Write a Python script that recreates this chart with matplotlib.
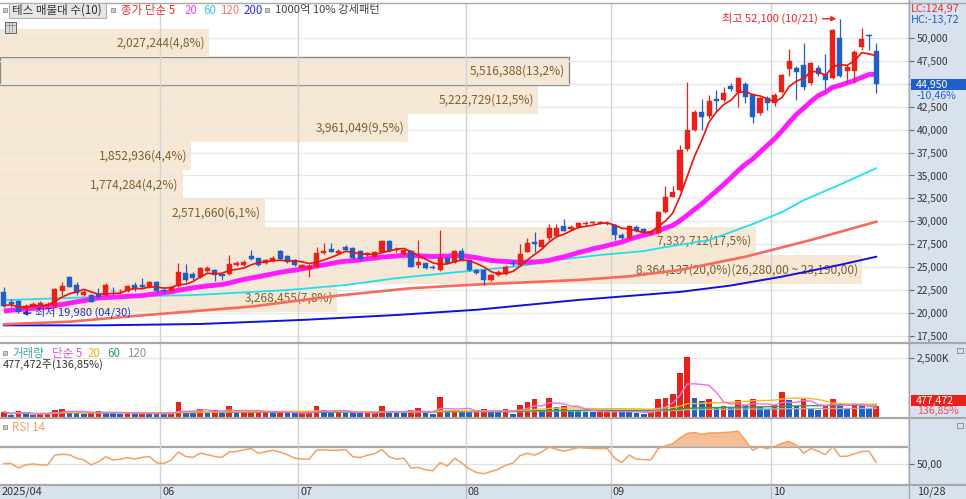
import numpy as np
import pandas as pd
import matplotlib
matplotlib.use("Agg")
import matplotlib.pyplot as plt
from matplotlib.patches import Rectangle
from matplotlib.lines import Line2D
from matplotlib.transforms import blended_transform_factory
from matplotlib.ticker import FuncFormatter

plt.rcParams['font.family'] = ['Noto Sans CJK KR', 'DejaVu Sans']

W, H = 966, 499

# ---------------- data ----------------
holidays = ["2025-05-01", "2025-05-05", "2025-05-06", "2025-06-03", "2025-06-06",
            "2025-08-15", "2025-10-03", "2025-10-06", "2025-10-07", "2025-10-08", "2025-10-09"]
dates = pd.bdate_range("2025-04-28", "2025-10-28")
dates = dates[~dates.isin(pd.to_datetime(holidays))]

opens = [22300, 21250, 21300, 20400, 20700, 20800, 20900, 20800, 22350, 23900,
         23050, 21950, 21950, 22050, 21950, 22450, 22350, 22400, 23050, 23000,
         22850, 23350, 22550, 22350, 22900, 24400, 24300, 23950, 24600, 24700,
         24200, 24200, 25250, 25250, 26200, 25950, 25450, 25700, 26800, 26200,
         25750, 24900, 24850, 25050, 26550, 27000, 26500, 27250, 27050, 26800,
         26300, 26150, 26700, 27900, 26850, 26450, 26750, 25250, 25400, 25050,
         24700, 25950, 25600, 26750, 25800, 24700, 24650, 23600, 24150, 24200,
         25500, 25250, 26700, 27700, 27250, 28150, 28400, 29500, 29150, 29400,
         29750, 29800, 29800, 29750, 29600, 28500, 28150, 29400, 29150, 28650,
         28700, 31000, 32700, 33400, 37850, 40000, 41950, 41450, 43300, 43250,
         44750, 44150, 45000, 43800, 41850, 43500, 42900, 44150, 46600, 46700,
         47000, 45050, 46750, 46050, 45650, 50000, 46400, 46350, 49050, 50300,
         48600]
highs = [22800, 21500, 21400, 21000, 21200, 21350, 21150, 22700, 23400, 24000,
         23350, 22500, 22100, 22700, 23300, 22800, 22650, 23050, 23400, 23800,
         23450, 23450, 22750, 22950, 25400, 25300, 24500, 25050, 25100, 24800,
         24300, 26300, 25650, 25750, 26850, 26050, 25900, 26200, 26900, 26300,
         25850, 25350, 25300, 27200, 27600, 27650, 26950, 27400, 27150, 26900,
         26700, 26800, 28000, 28000, 27200, 26950, 26850, 28000, 25500, 25200,
         29050, 26100, 26850, 27100, 25900, 24800, 24750, 24300, 24700, 25200,
         25800, 27500, 28150, 28850, 28100, 29700, 29700, 30300, 29550, 29900,
         30000, 30050, 30000, 30050, 29700, 28700, 29650, 29600, 29300, 28950,
         31100, 33800, 33800, 38300, 45250, 42100, 43300, 43800, 44300, 44600,
         45100, 45700, 45250, 44000, 43600, 43700, 44000, 46100, 48850, 46900,
         49500, 47400, 47100, 48300, 51000, 52100, 47000, 48700, 51050, 50400,
         49400]
lows = [20700, 20650, 19980, 20300, 20600, 20700, 20800, 20700, 22000, 22800,
        22000, 21900, 21150, 21600, 21900, 22000, 22200, 22300, 22400, 22700,
        22700, 22250, 22200, 22250, 22800, 23400, 23600, 23850, 24500, 23450,
        23600, 24100, 25150, 25150, 25750, 25150, 25350, 25600, 25750, 25450,
        25150, 24800, 23950, 24950, 26450, 26600, 26400, 26800, 25850, 25750,
        26200, 26050, 26600, 26700, 26700, 26350, 25000, 24900, 24800, 24800,
        24600, 25300, 25500, 25700, 24600, 24200, 23050, 23450, 24050, 24100,
        25150, 25150, 26600, 26600, 27100, 28000, 28300, 28900, 29000, 29300,
        29650, 29700, 29700, 29600, 28000, 28050, 28050, 28800, 28700, 28500,
        28600, 30900, 32600, 33300, 37700, 39900, 40000, 41300, 41900, 43000,
        44200, 42500, 42900, 40700, 41600, 42100, 42600, 44000, 45900, 43250,
        44300, 44900, 45800, 44450, 45500, 45700, 45250, 45100, 48700, 48700,
        44000]
closes = [20800, 21000, 20150, 20800, 21000, 21100, 21000, 22600, 22950, 22850,
          22150, 22300, 21250, 21700, 23050, 22350, 22450, 22950, 22600, 22850,
          23350, 22350, 22450, 22800, 24500, 23600, 23800, 24900, 24900, 24100,
          24000, 25300, 25500, 25600, 25850, 25250, 25750, 26050, 25850, 25550,
          25250, 25200, 25150, 26500, 26750, 26700, 26800, 26900, 25950, 25850,
          26550, 26650, 27900, 26800, 26950, 26850, 25050, 25600, 24900, 24950,
          25950, 25400, 26750, 25800, 24700, 24350, 23600, 24150, 24500, 25050,
          25350, 26400, 27600, 27500, 27950, 29250, 29250, 28950, 29400, 29800,
          29850, 29850, 29850, 29850, 28500, 28150, 29500, 28900, 28800, 28850,
          31050, 32600, 33200, 37800, 39950, 41950, 41400, 43150, 43100, 44050,
          44400, 45600, 43600, 41400, 43400, 42900, 43750, 45950, 47500, 46300,
          44600, 47250, 46050, 45400, 50900, 45900, 46850, 48500, 49850, 50200,
          44950]
volumes = [214000, 70000, 257000, 115000, 75000, 140000, 150000, 310000, 340000, 245000,
           150000, 145000, 155000, 257000, 215000, 170000, 145000, 150000, 140000, 150000,
           140000, 138000, 130000, 145000, 640000, 170000, 165000, 360000, 215000, 285000,
           215000, 480000, 180000, 230000, 245000, 255000, 265000, 170000, 180000, 172000,
           165000, 170000, 180000, 460000, 285000, 170000, 285000, 170000, 165000, 160000,
           170000, 175000, 480000, 172000, 168000, 165000, 285000, 400000, 170000, 110000,
           850000, 257000, 315000, 215000, 210000, 215000, 357000, 214000, 205000, 328000,
           143000, 499000, 642000, 756000, 314000, 827000, 440000, 450000, 285000, 280000,
           214000, 205000, 215000, 220000, 280000, 214000, 205000, 170000, 140000, 214000,
           785000, 827000, 998000, 1855000, 2568000, 827000, 685000, 785000, 400000, 485000,
           400000, 713000, 499000, 756000, 428000, 357000, 499000, 1070000, 713000, 471000,
           756000, 385000, 314000, 499000, 756000, 571000, 357000, 499000, 485000, 348903,
           477472]
rsi14 = [51, 51, 46, 49.5, 50.5, 49.5, 49.5, 60.5, 61.5, 61,
         57, 55, 49.5, 53, 58.7, 55, 56, 57.7, 56, 58,
         59, 52, 51, 55, 64, 59, 58, 62.8, 61, 59,
         58, 64.2, 64.5, 66.5, 68, 62.5, 64.5, 66, 64, 61,
         57, 56, 56, 66, 66.5, 66, 66, 66.7, 58.7, 57.7,
         60.5, 62, 66.7, 58.7, 56, 57, 46, 46.5, 44, 42.8,
         52, 48.3, 57, 51.5, 45, 41, 39.5, 42, 44.5, 49,
         51.5, 60, 62.5, 60.5, 64.2, 69.8, 67, 65, 67, 69,
         68.5, 68, 68, 68, 57, 52.2, 60.5, 56, 55.5, 55,
         68, 71, 73.5, 80, 85, 86, 84, 85.5, 85.5, 86,
         86.5, 87.6, 77, 66, 69.8, 68, 70, 74, 76, 71.7,
         62.8, 68, 65, 61, 70.4, 59, 59.3, 62, 64.5, 65,
         52.2]

ma20_head_idx = [0, 6, 13]
ma20_head_val = [20220, 20650, 21640]
ma60_idx = [0, 13, 26, 39, 47, 54, 61, 68, 72, 76, 82, 88, 90, 97, 103, 107, 110, 115, 120]
ma60_val = [21400, 21750, 21950, 22500, 23050, 23800, 24350, 24880, 25240, 25780,
            26330, 26750, 27050, 27950, 29700, 31000, 32300, 34000, 35800]
ma120_idx = [0, 9, 18, 27, 34, 46, 56, 65, 79, 86, 93, 102, 111, 120]
ma120_val = [18770, 19050, 19670, 20250, 20700, 21900, 22700, 23100, 23600, 24000,
             24690, 26140, 27960, 29960]
ma200_idx = [0, 13, 27, 41, 54, 65, 79, 93, 100, 107, 115, 120]
ma200_val = [18650, 18650, 18800, 19240, 19780, 20350, 21420, 22300, 23000, 23960, 25250, 26140]

# volume profile (매물대 10)
band_edges = [20100, 23190, 26280, 29370, 32460, 35550, 38640, 41730, 44820, 47910, 51000]
band_vol = [3268455, 8364137, 7332712, 2571660, 1774284, 1852936, 3961049, 5222729, 5516388, 2027244]

price_ticks = list(range(17500, 50001, 2500))

# ---------------- style ----------------
RED = '#e8221a'
BLUE = '#1f5fc8'
BAND = '#f6e8d5'
BAND_TXT = '#7f6030'
PANEL = '#d8e2ee'
SEP = '#a8a8a8'

n = len(closes)
x = np.arange(n)
o = np.array(opens, float); h = np.array(highs, float)
l = np.array(lows, float); c = np.array(closes, float)
v = np.array(volumes, float); r = np.array(rsi14, float)


def dec(s):
    return s.replace('.', ',')


fig = plt.figure(figsize=(W / 100, H / 100), dpi=100)
fig.patch.set_facecolor('white')


def rect(x0, y0, x1, y1):
    return [x0 / W, 1 - y1 / H, (x1 - x0) / W, (y1 - y0) / H]


def fx(px):
    return px / W


def fy(py):
    return 1 - py / H


fig.add_artist(Rectangle((fx(908), 0), 1 - fx(908), 1, transform=fig.transFigure,
                         facecolor=PANEL, edgecolor='none', zorder=-5))
fig.add_artist(Rectangle((0, 0), 1, 1 - fy(485), transform=fig.transFigure,
                         facecolor=PANEL, edgecolor='none', zorder=-5))

axp = fig.add_axes(rect(0, 3, 908, 342))
axv = fig.add_axes(rect(0, 344, 908, 417))
axr = fig.add_axes(rect(0, 419, 908, 484))

XL = (-0.54, 124.36)
for ax in (axp, axv, axr):
    ax.set_xlim(*XL)
    ax.set_facecolor('white')
    for s in ax.spines.values():
        s.set_visible(False)
    ax.set_xticks([])
    ax.yaxis.tick_right()
    ax.tick_params(axis='y', direction='out', length=4, width=0.8, color='#666666',
                   labelsize=7.4, labelcolor='#333333', pad=2)

bounds = [i for i in range(1, n) if dates[i].month != dates[i - 1].month and i > 10]
for ax in (axp, axv, axr):
    for b in bounds:
        ax.axvline(b - 0.5, color='#d2d2d2', lw=1.0, zorder=0.6)

# ---------------- price panel ----------------
axp.set_ylim(16834, 53818)
axp.set_yticks(price_ticks)
axp.yaxis.set_major_formatter(FuncFormatter(lambda val, p: f"{int(val):,}"))

trans = blended_transform_factory(axp.transAxes, axp.transData)
vmax = max(band_vol)
vtot = sum(band_vol)
last = closes[-1]
for i in range(len(band_vol)):
    lo, hi = band_edges[i], band_edges[i + 1]
    wfrac = band_vol[i] / vmax * (862 / 908)
    cur = lo <= last < hi
    axp.add_patch(Rectangle((0, lo), wfrac, hi - lo, transform=trans, facecolor=BAND,
                            edgecolor='#8a8a8a' if cur else 'none', lw=1.0, zorder=0.3))
    lab = f"{band_vol[i]:,}({band_vol[i] / vtot * 100:.1f}%)"
    if band_vol[i] == vmax:
        lab += f"({hi:,.2f} ~ {lo:,.2f})"
    axp.text(wfrac - 4 / 908, (lo + hi) / 2, dec(lab), transform=trans, ha='right', va='center',
             fontsize=8.6, color=BAND_TXT, zorder=0.8)

for t in price_ticks:
    axp.axhline(t, color='#e6e6e6', lw=0.9, zorder=0.5)

ma5 = pd.Series(c).rolling(5, min_periods=1).mean()
ma20_calc = pd.Series(c).rolling(20).mean()
ma20_x = list(ma20_head_idx) + list(range(19, n))
ma20_y = list(ma20_head_val) + list(ma20_calc.iloc[19:])

axp.plot(ma200_idx, ma200_val, color='#1010e0', lw=1.4, zorder=2)
axp.plot(ma120_idx, ma120_val, color='#f86a5e', lw=1.9, zorder=2)
axp.plot(ma60_idx, ma60_val, color='#20e0f0', lw=1.3, zorder=2)
axp.plot(ma20_x, ma20_y, color='#ff1aff', lw=3.5, zorder=2, solid_capstyle='butt')

up = c >= o
cc = np.where(up, RED, BLUE)
axp.vlines(x, l, h, colors=cc, lw=0.9, zorder=3)
body_lo = np.minimum(o, c)
body_h = np.maximum(np.abs(c - o), 80)
axp.bar(x, body_h, bottom=body_lo, width=0.7, color=cc, edgecolor=cc, lw=0.3, zorder=3.5)
axp.plot(x, ma5, color='#ee1010', lw=1.2, zorder=4)

imax = int(np.argmax(h)); imin = int(np.argmin(l))
axp.annotate(f"최고 {int(h[imax]):,} ({dates[imax]:%m/%d})", xy=(imax - 0.5, h[imax]),
             xytext=(-18, 0), textcoords='offset pixels', ha='right', va='center',
             fontsize=8, color='#f02020', zorder=6,
             arrowprops=dict(arrowstyle='-|>', color='#f02020', lw=1.0, mutation_scale=7,
                             shrinkA=1, shrinkB=0))
axp.annotate(f"최저 {int(l[imin]):,} ({dates[imin]:%m/%d})", xy=(imin + 0.5, l[imin]),
             xytext=(13, 1), textcoords='offset pixels', ha='left', va='center',
             fontsize=8, color='#2030c0', zorder=6,
             arrowprops=dict(arrowstyle='-|>', color='#2030c0', lw=1.0, mutation_scale=7,
                             shrinkA=1, shrinkB=0))

# ---------------- volume panel ----------------
axv.set_ylim(0, 3.11e6)
axv.set_yticks([2.5e6])
axv.set_yticklabels(["2,500K"])
axv.axhline(2.5e6, color='#e6e6e6', lw=0.9, zorder=0.5)
vcol = [RED] + [RED if v[i] > v[i - 1] else BLUE for i in range(1, n)]
axv.bar(x, v, width=0.78, color=vcol, zorder=2)
vs = pd.Series(v)
axv.plot(x, vs.rolling(120, min_periods=1).mean(), color='#b0b0b0', lw=1.0, zorder=3)
axv.plot(x, vs.rolling(60, min_periods=1).mean(), color='#30a050', lw=1.0, zorder=3)
axv.plot(x, vs.rolling(20, min_periods=1).mean(), color='#f5b820', lw=1.0, zorder=3)
axv.plot(x, vs.rolling(5, min_periods=1).mean(), color='#ee70dd', lw=1.0, zorder=3)

# ---------------- RSI panel ----------------
axr.set_ylim(27.9, 101.3)
axr.set_yticks([50])
axr.set_yticklabels(["50,00"])
axr.axhline(50, color='#e2e2e2', lw=1.0, zorder=0.5)
axr.axhline(70, color='#a8a8a8', lw=1.6, zorder=0.5)
axr.fill_between(x, r, 70, where=r > 70, interpolate=True, color='#f5be96', lw=0, zorder=1)
axr.plot(x, r, color='#f4a064', lw=1.1, zorder=2)


# ---------------- separators ----------------
def hline(py, x0=0, x1=W, color=SEP, lw=1.2):
    fig.add_artist(Line2D([fx(x0), fx(x1)], [fy(py), fy(py)], transform=fig.transFigure,
                          color=color, lw=lw, zorder=5))


hline(2.5, lw=1.0)
hline(343, lw=1.6)
hline(418, lw=1.6)
hline(484.5, lw=1.6)
fig.add_artist(Line2D([fx(908.5), fx(908.5)], [0, 1], transform=fig.transFigure,
                      color=SEP, lw=1.0, zorder=5))


# ---------------- texts ----------------
def ftext(px, py, s, **kw):
    kw.setdefault('fontsize', 8)
    fig.text(fx(px), fy(py), s, ha='left', va='center', **kw)


def sq(px, py):
    fig.add_artist(Rectangle((fx(px), fy(py + 2)), 4 / W, 4 / H, transform=fig.transFigure,
                             facecolor='#c8c8c8', edgecolor='#808080', lw=0.5, zorder=6))


def box(x0, y0, x1, y1, color):
    fig.add_artist(Rectangle((fx(x0), fy(y1)), (x1 - x0) / W, (y1 - y0) / H,
                             transform=fig.transFigure, facecolor=color, edgecolor='none', zorder=7))


sq(3, 10)
box(9, 3.5, 106, 17.5, '#e6e6e6')
fig.add_artist(Rectangle((fx(9), fy(17.5)), 97 / W, 14 / H, transform=fig.transFigure,
                         facecolor='none', edgecolor='#b0b0b0', lw=0.8, zorder=7.5))
ftext(12, 10.5, "테스 매물대 수(10)", color='#333333', fontsize=8.3, zorder=8)
sq(111, 10)
ftext(121, 10.5, "종가 단순 5", color='#f03030', fontsize=8.3)
ftext(185, 10.5, "20", color='#ff40ff', fontsize=8.3)
ftext(203, 10.5, "60", color='#30d0e0', fontsize=8.3)
ftext(220, 10.5, "120", color='#f87878', fontsize=8.3)
ftext(244, 10.5, "200", color='#3030f0', fontsize=8.3)
sq(265, 10)
ftext(275, 10.5, "1000억 10% 강세패턴", color='#404040', fontsize=8.1)

fig.add_artist(Rectangle((fx(5), fy(33)), 11 / W, 11 / H, transform=fig.transFigure,
                         facecolor='#dcdcdc', edgecolor='#606060', lw=0.7, zorder=6))
for gx in (8.7, 12.3):
    fig.add_artist(Line2D([fx(gx), fx(gx)], [fy(33), fy(22)], transform=fig.transFigure,
                          color='#808080', lw=0.5, zorder=7))
fig.add_artist(Line2D([fx(5), fx(16)], [fy(25), fy(25)], transform=fig.transFigure,
                      color='#808080', lw=0.5, zorder=7))

lc = (c[-1] / l.min() - 1) * 100
hc = (c[-1] / h.max() - 1) * 100
ftext(911, 9, dec(f"LC:{lc:.2f}"), color='#e03030', fontsize=7.8)
ftext(911, 20, dec(f"HC:{hc:.2f}"), color='#2060d0', fontsize=7.8)

py_last = H - axp.transData.transform((0, c[-1]))[1]
box(911, py_last - 5.5, 966, py_last + 5.5, '#1f5fc8')
ftext(916, py_last + 0.5, f"{int(c[-1]):,}", color='white', fontsize=7.6, zorder=8)
chg = (c[-1] / c[-2] - 1) * 100
ftext(917, py_last + 12, dec(f"{chg:.2f}%"), color='#2060d0', fontsize=7.6)

sq(3, 353)
ftext(12, 353.5, "거래량", color='#40a8a8', fontsize=8.3)
ftext(52, 353.5, "단순 5", color='#e050d0', fontsize=8.3)
ftext(88, 353.5, "20", color='#f0b020', fontsize=8.3)
ftext(107, 353.5, "60", color='#30a060', fontsize=8.3)
ftext(127, 353.5, "120", color='#909090', fontsize=8.3)
vpct = v[-1] / v[-2] * 100
ftext(3, 365, dec(f"{int(v[-1]):,}주({vpct:.2f}%)"), color='#333333', fontsize=7.9)
box(911, 395, 966, 406, '#e8221a')
ftext(916, 400.5, f"{int(v[-1]):,}", color='white', fontsize=7.6, zorder=8)
ftext(917, 411, dec(f"{vpct:.2f}%"), color='#e85050', fontsize=7.6)

sq(3, 427)
ftext(12, 427.5, "RSI 14", color='#f4a064', fontsize=8.3)

for py in (350, 425):
    fig.add_artist(Rectangle((fx(957), fy(py + 3)), 6 / W, 5 / H, transform=fig.transFigure,
                             facecolor='#e0e0e0', edgecolor='#707070', lw=0.5, zorder=6))

tb = blended_transform_factory(axr.transData, fig.transFigure)
fig.text(fx(2), fy(492), f"{dates[0].year}/{dates[0].month:02d}", ha='left', va='center',
         fontsize=7.9, color='#333333')
for b in bounds:
    fig.add_artist(Line2D([b - 0.5, b - 0.5], [fy(499), fy(485)], transform=tb,
                          color='#b8b8b8', lw=0.8, zorder=6))
    fig.text(b - 0.5 + 0.25, fy(492), f"{dates[b].month:02d}", transform=tb, ha='left',
             va='center', fontsize=7.9, color='#333333')
fig.text(fx(917), fy(492), f"{dates[-1].month:02d}/{dates[-1].day:02d}", ha='left',
         va='center', fontsize=7.9, color='#333333')

fig.savefig("out.png", dpi=100, facecolor='white')
